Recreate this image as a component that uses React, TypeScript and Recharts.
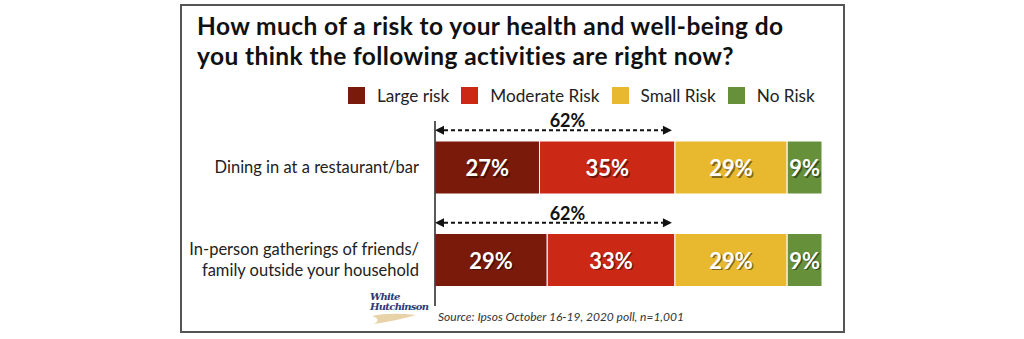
import { BarChart, Bar, XAxis, YAxis, LabelList, ReferenceLine } from 'recharts';

const categories = [
  'Dining in at a restaurant/bar',
  'In-person gatherings of friends/\nfamily outside your household',
];
const largeRisk = [27, 29];
const moderateRisk = [35, 33];
const smallRisk = [29, 29];
const noRisk = [9, 9];
const seriesNames = ['Large risk', 'Moderate Risk', 'Small Risk', 'No Risk'];
const seriesKeys = ['large', 'moderate', 'small', 'none'];
const COLORS = ['#7A1A0A', '#CC2816', '#E8B92F', '#66903A'];
const titleLines = [
  'How much of a risk to your health and well-being do',
  'you think the following activities are right now?',
];

const data = categories.map((name, i) => ({
  name,
  large: largeRisk[i],
  moderate: moderateRisk[i],
  small: smallRisk[i],
  none: noRisk[i],
  atRisk: largeRisk[i] + moderateRisk[i],
}));

const FONT = 'Lato, "Open Sans", sans-serif';

function CategoryTick({ x, y, payload }: any) {
  const lines = String(payload.value).split('\n');
  const lh = 21;
  const y0 = y - ((lines.length - 1) * lh) / 2;
  return (
    <g>
      {lines.map((l, i) => (
        <text key={i} x={x - 8} y={y0 + i * lh} textAnchor="end" dominantBaseline="central"
          fontSize={16.5} fill="#222" fontFamily={FONT}>{l}</text>
      ))}
    </g>
  );
}

function SegLabel({ x, y, width, height, value }: any) {
  const cx = x + width / 2;
  const cy = y + height / 2;
  const common = { x: cx, y: cy, textAnchor: 'middle' as const, dominantBaseline: 'central' as const, fontSize: 22, fontWeight: 700, fontFamily: FONT };
  return (
    <g>
      <text {...common} x={cx + 1.5} y={cy + 1.5} fill="rgba(0,0,0,0.45)">{value}%</text>
      <text {...common} fill="#fff">{value}%</text>
    </g>
  );
}

function RiskArrow({ x1, y1, x2, value }: any) {
  const y = y1 - 37;
  const h = 4.5, w = 9;
  const xe = x2 - 3;
  return (
    <g>
      <line x1={x1 + w} y1={y} x2={xe - w} y2={y} stroke="#111" strokeWidth={2} strokeDasharray="4 3" />
      <polygon points={`${x1},${y} ${x1 + w},${y - h} ${x1 + w},${y + h}`} fill="#111" />
      <polygon points={`${xe},${y} ${xe - w},${y - h} ${xe - w},${y + h}`} fill="#111" />
      <text x={(x1 + xe) / 2 + 14} y={y - 10} textAnchor="middle" dominantBaseline="central"
        fontSize={18} fontWeight={700} fill="#111" fontFamily={FONT}>{value}%</text>
    </g>
  );
}

export default function App() {
  return (
    <div style={{ position: 'absolute', left: 0, top: 0, width: 1024, height: 339, background: '#fff', fontFamily: FONT }}>
      <div style={{ position: 'absolute', left: 180, top: 4, width: 665, height: 329, border: '2px solid #555', boxSizing: 'border-box' }} />
      {titleLines.map((t, i) => (
        <div key={i} style={{ position: 'absolute', left: 197, top: 11 + i * 29.5, fontSize: 24.5, lineHeight: '29px', letterSpacing: 0.4, fontWeight: 700, color: '#111', whiteSpace: 'nowrap' }}>
          {t}
        </div>
      ))}
      <div style={{ position: 'absolute', left: 348, top: 85, display: 'flex', alignItems: 'center', fontSize: 17.2, color: '#222' }}>
        {seriesNames.map((n, i) => (
          <div key={n} style={{ display: 'flex', alignItems: 'center', marginRight: 12 }}>
            <span style={{ width: 17, height: 17, background: COLORS[i], marginRight: 12, display: 'inline-block' }} />
            <span>{n}</span>
          </div>
        ))}
      </div>
      <div style={{ position: 'absolute', left: 0, top: 0 }}>
        <BarChart width={1024} height={339} data={data} layout="vertical" margin={{ top: 121, right: 202, bottom: 33, left: 0 }}>
          <XAxis type="number" domain={[0, 100]} hide />
          <YAxis type="category" dataKey="name" width={435} axisLine={{ stroke: '#222', strokeWidth: 1.5 }} tickLine={false} tick={<CategoryTick />} />
          {seriesKeys.map((k, i) => (
            <Bar key={k} dataKey={k} name={seriesNames[i]} stackId="a" fill={COLORS[i]} stroke="#fff" strokeWidth={1} barSize={53} isAnimationActive={false}>
              <LabelList dataKey={k} content={<SegLabel />} />
            </Bar>
          ))}
          {data.map(d => (
            <ReferenceLine key={d.name} segment={[{ x: 0, y: d.name }, { x: d.atRisk, y: d.name }]} ifOverflow="visible"
              shape={(p: any) => <RiskArrow {...p} value={d.atRisk} />} />
          ))}
        </BarChart>
      </div>
      <div style={{ position: 'absolute', left: 370, top: 292, width: 50, fontFamily: '"DejaVu Serif", serif', fontStyle: 'italic', fontWeight: 700, color: '#2B3A7A', fontSize: 10, letterSpacing: -0.7 }}>
        <div style={{ lineHeight: '10px', height: 10 }}>White</div>
        <div style={{ lineHeight: '10px', height: 10 }}>Hutchinson</div>
        <svg width={48} height={13} style={{ display: 'block' }}>
          <path d="M2 4 Q 20 0 46 3 Q 30 8 4 12 Q 12 7 2 4 Z" fill="#E8D2A8" />
        </svg>
      </div>
      <div style={{ position: 'absolute', left: 438, top: 309, fontSize: 12, fontStyle: 'italic', color: '#333' }}>
        Source: Ipsos October 16-19, 2020 poll, n=1,001
      </div>
    </div>
  );
}
